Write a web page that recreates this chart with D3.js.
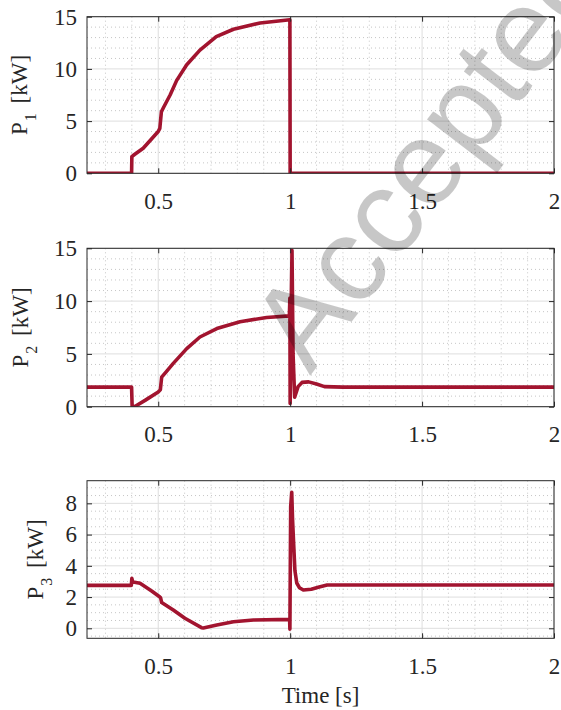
<!DOCTYPE html>
<html lang="en">
<head>
<meta charset="utf-8">
<title>P1 P2 P3 vs time</title>
<style>
  body { margin: 0; background: #fff; }
</style>
</head>
<body>
<svg id="chart" width="561" height="710"></svg>
<script src="https://d3js.org/d3.v7.min.js"></script>
<script>
// time stamps [s] and powers [kW]
const t1 = [0.23, 0.399, 0.4, 0.41, 0.443, 0.5, 0.506, 0.512, 0.52, 0.545, 0.57, 0.608, 0.658, 0.72, 0.785, 0.886, 0.999, 1.0, 2];
const p1 = [0, 0, 1.6, 1.8, 2.4, 4.0, 4.3, 5.9, 6.3, 7.5, 8.9, 10.4, 11.8, 13.1, 13.8, 14.4, 14.7, 0, 0];

const t2 = [0.23, 0.399, 0.401, 0.41, 0.45, 0.5, 0.508, 0.513, 0.53, 0.557, 0.608, 0.658, 0.722, 0.81, 0.911, 0.997, 0.999, 1.0, 1.003, 1.007, 1.011, 1.017, 1.03, 1.045, 1.07, 1.1, 1.13, 1.2, 2];
const p2 = [1.85, 1.85, 0.1, 0.0, 0.6, 1.4, 1.6, 2.8, 3.3, 4.1, 5.5, 6.6, 7.4, 8.05, 8.45, 8.6, 10.3, 0.3, 8, 14.8, 5, 0.9, 1.9, 2.3, 2.35, 2.15, 1.9, 1.85, 1.85];

const t3 = [0.23, 0.398, 0.4, 0.403, 0.41, 0.431, 0.475, 0.505, 0.509, 0.513, 0.557, 0.601, 0.664, 0.671, 0.722, 0.785, 0.861, 0.998, 0.999, 1.002, 1.006, 1.009, 1.013, 1.018, 1.025, 1.035, 1.05, 1.08, 1.11, 1.14, 2];
const p3 = [2.75, 2.75, 3.2, 2.95, 2.95, 2.88, 2.39, 2.02, 1.95, 1.65, 1.17, 0.64, 0.04, 0.02, 0.21, 0.42, 0.53, 0.57, -0.05, 7.8, 8.7, 7.0, 5.5, 3.7, 2.9, 2.6, 2.45, 2.5, 2.65, 2.77, 2.77];

const xTicks = [0.5, 1, 1.5, 2];
const yTicks12 = [0, 5, 10, 15];
const yTicks3 = [0, 2, 4, 6, 8];

const serif = '"Liberation Serif"';
const fs = "23px";
const svg = d3.select("#chart");
const lineColor = "#a2142f";

const x = d3.scaleLinear().domain([0.23, 2]).range([87, 554]);
const xMinor = d3.range(0.3, 2.0001, 0.1).filter(v => Math.abs(v * 2 - Math.round(v * 2)) > 1e-6);

const panels = [
  { t: t1, p: p1, sub: "1", dom: [0, 15], top: 16.7, bottom: 173.3, ticks: yTicks12, minor: d3.range(1, 15, 1).filter(v => v % 5), labelX: 27 },
  { t: t2, p: p2, sub: "2", dom: [0, 15], top: 248.3, bottom: 406.7, ticks: yTicks12, minor: d3.range(1, 15, 1).filter(v => v % 5), labelX: 28 },
  { t: t3, p: p3, sub: "3", dom: [-0.64, 9.45], top: 480.7, bottom: 638.3, ticks: yTicks3, minor: d3.range(-0.5, 9.01, 0.5).filter(v => Math.abs(v / 2 - Math.round(v / 2)) > 1e-6), labelX: 43 }
];

panels.forEach((d, i) => {
  const y = d3.scaleLinear().domain(d.dom).range([d.bottom, d.top]);
  const g = svg.append("g");
  const [x0, x1] = x.range();

  g.append("clipPath").attr("id", "clip" + i)
    .append("rect").attr("x", x0).attr("y", d.top).attr("width", x1 - x0).attr("height", d.bottom - d.top);

  // minor grid
  g.selectAll(".mx").data(xMinor).enter().append("line")
    .attr("x1", v => x(v)).attr("x2", v => x(v)).attr("y1", d.top).attr("y2", d.bottom)
    .attr("stroke", "#b8b8b8").attr("stroke-width", 0.8).attr("stroke-dasharray", "1,3");
  g.selectAll(".my").data(d.minor).enter().append("line")
    .attr("x1", x0).attr("x2", x1).attr("y1", v => y(v)).attr("y2", v => y(v))
    .attr("stroke", "#b8b8b8").attr("stroke-width", 0.8).attr("stroke-dasharray", "1,3");

  // major grid
  g.selectAll(".gx").data(xTicks).enter().append("line")
    .attr("x1", v => x(v)).attr("x2", v => x(v)).attr("y1", d.top).attr("y2", d.bottom)
    .attr("stroke", "#dedede").attr("stroke-width", 1);
  g.selectAll(".gy").data(d.ticks).enter().append("line")
    .attr("x1", x0).attr("x2", x1).attr("y1", v => y(v)).attr("y2", v => y(v))
    .attr("stroke", "#dedede").attr("stroke-width", 1);

  // data line
  const pts = d.t.map((tv, k) => [tv, d.p[k]]);
  g.append("path").datum(pts)
    .attr("clip-path", `url(#clip${i})`)
    .attr("fill", "none").attr("stroke", lineColor).attr("stroke-width", 3.6)
    .attr("stroke-linejoin", "round")
    .attr("d", d3.line().x(v => x(v[0])).y(v => y(v[1])));

  // axes, ticks pointing inward
  const ax = [
    g.append("g").attr("transform", `translate(0,${d.bottom})`)
      .call(d3.axisBottom(x).tickValues(xTicks).tickFormat(d3.format("")).tickSize(-5).tickPadding(19)),
    g.append("g").attr("transform", `translate(0,${d.top})`)
      .call(d3.axisTop(x).tickValues(xTicks).tickFormat("").tickSize(-5)),
    g.append("g").attr("transform", `translate(${x0},0)`)
      .call(d3.axisLeft(y).tickValues(d.ticks).tickSize(-5).tickPadding(10)),
    g.append("g").attr("transform", `translate(${x1},0)`)
      .call(d3.axisRight(y).tickValues(d.ticks).tickFormat("").tickSize(-5))
  ];
  ax.forEach(a => {
    a.select(".domain").remove();
    a.selectAll(".tick line").attr("stroke", "#262626");
    a.selectAll(".tick text").attr("fill", "#262626")
      .style("font-family", serif).style("font-size", fs);
  });

  g.append("rect").attr("x", x0).attr("y", d.top).attr("width", x1 - x0).attr("height", d.bottom - d.top)
    .attr("fill", "none").attr("stroke", "#262626").attr("stroke-width", 1);

  // y label
  const lab = g.append("text")
    .attr("transform", `translate(${d.labelX},${(d.top + d.bottom) / 2}) rotate(-90)`)
    .attr("text-anchor", "middle").attr("fill", "#262626")
    .style("font-family", serif).style("font-size", fs);
  lab.append("tspan").text("P");
  lab.append("tspan").text(d.sub).style("font-size", "16px").attr("dy", 9).attr("dx", 1);
  lab.append("tspan").text(" [kW]").attr("dy", -9).attr("dx", 4);
});

svg.append("text").attr("x", (x.range()[0] + x.range()[1]) / 2).attr("y", 703)
  .attr("text-anchor", "middle").attr("fill", "#262626")
  .style("font-family", serif).style("font-size", fs).text("Time [s]");

// watermark
svg.append("text")
  .attr("transform", "translate(310,376) rotate(-52.5)")
  .style("font-family", '"Liberation Sans"')
  .style("font-size", "120px").style("fill", "#000").style("fill-opacity", 0.22)
  .text("Accepted");
</script>
</body>
</html>
